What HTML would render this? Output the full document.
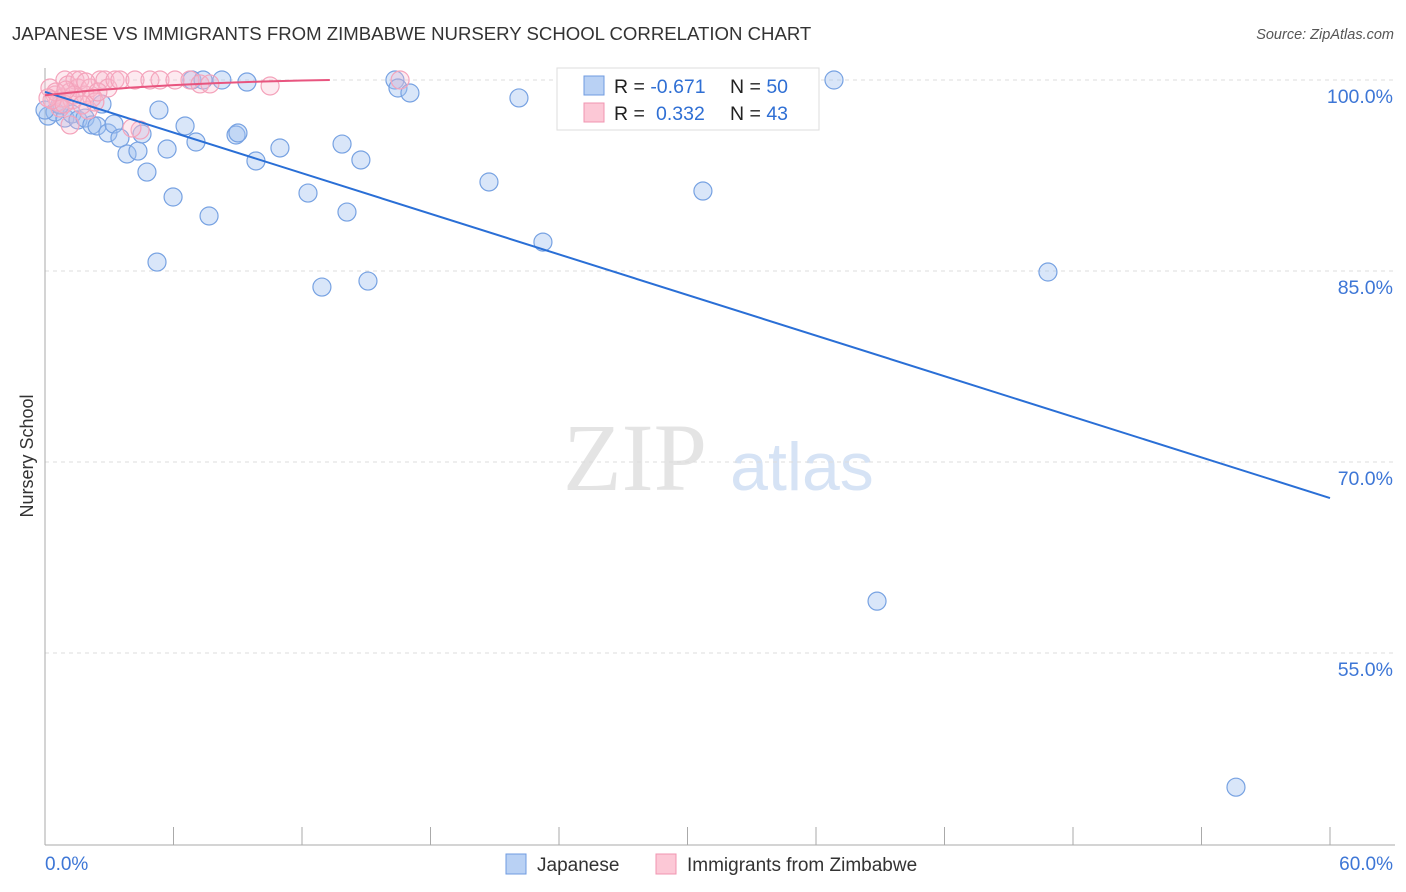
<!DOCTYPE html>
<html><head><meta charset="utf-8"><style>
body{margin:0;background:#fff;font-family:"Liberation Sans",sans-serif}
svg{display:block}
</style></head><body>
<svg id="c" width="1406" height="892">
<text x="12" y="40" font-size="18.6" fill="#333">JAPANESE VS IMMIGRANTS FROM ZIMBABWE NURSERY SCHOOL CORRELATION CHART</text>
<text x="1394" y="39" font-size="14.5" fill="#555" font-style="italic" text-anchor="end">Source: ZipAtlas.com</text>
<g>
<text x="635" y="490" font-size="96" font-family="Liberation Serif,serif" fill="#e4e4e4" text-anchor="middle">ZIP</text>
<text x="802" y="490" font-size="68" fill="#d6e3f5" text-anchor="middle">atlas</text>
</g>
<g id="grid"></g>
<g id="axes"></g>
<g id="pts"></g>
<g id="lines"></g>
<text transform="translate(33,456) rotate(-90)" font-size="18" fill="#333" text-anchor="middle">Nursery School</text>
<g>
<rect x="557" y="68" width="262" height="62" fill="#fff" stroke="#ddd"/>
<rect x="584" y="76" width="20" height="19" fill="#b9d1f4" stroke="#6f9be0"/>
<rect x="584" y="103" width="20" height="19" fill="#fcc8d6" stroke="#f095b0"/>
<text x="614" y="93" font-size="19.5" fill="#222">R = <tspan fill="#2f6fd4">-0.671</tspan><tspan x="730">N = </tspan><tspan fill="#2f6fd4">50</tspan></text>
<text x="614" y="120" font-size="19.5" fill="#222">R = <tspan x="656" fill="#2f6fd4">0.332</tspan><tspan x="730">N = </tspan><tspan fill="#2f6fd4">43</tspan></text>
</g>
<g>
<rect x="506" y="854" width="20" height="20" fill="#b9d1f4" stroke="#6f9be0"/>
<text x="537" y="871" font-size="19" fill="#333">Japanese</text>
<rect x="656" y="854" width="20" height="20" fill="#fcc8d6" stroke="#f095b0"/>
<text x="687" y="871" font-size="19" fill="#333">Immigrants from Zimbabwe</text>
</g>
</svg>
<script>
const yTicks=[100,85,70,55];
const yTickLabels=["100.0%","85.0%","70.0%","55.0%"];
const xTicks=[0,6,12,18,24,30,36,42,48,54,60];
const xEndLabels=["0.0%","60.0%"];
const japX=[0.14,0.47,0.93,1.26,1.54,1.87,2.19,2.43,2.66,2.94,3.22,3.50,3.83,4.34,4.53,4.76,5.23,5.32,5.70,5.98,6.54,6.86,7.05,7.38,7.66,8.26,8.92,9.01,9.43,9.85,10.97,12.28,12.93,13.87,14.10,14.75,15.08,16.34,16.48,17.04,20.73,22.13,23.25,30.72,36.84,38.85,46.83,55.61,0.0,0.70];
const japY=[97.17,97.49,97.01,97.33,96.86,97.01,96.47,96.39,98.11,95.84,96.54,95.44,94.19,94.42,95.76,92.77,85.70,97.64,94.58,90.81,96.39,100,95.13,100,89.32,100,95.68,95.84,99.84,93.64,94.66,91.12,83.74,94.97,89.63,93.72,84.21,100,99.37,98.98,91.99,98.59,87.27,91.28,100,59.07,84.92,44.46,97.64,98.04];
const zimX=[0.23,0.47,0.61,0.79,0.93,1.07,1.17,1.26,1.40,1.54,1.63,1.87,2.01,2.10,2.19,2.33,2.57,2.80,2.94,3.27,3.50,4.20,4.44,4.90,5.37,6.07,6.77,7.24,7.70,10.51,16.58,1.17,0.70,0.33,0.51,0.89,1.35,1.73,0.14,0.98,1.91,2.47,4.06];
const zimY=[99.37,98.82,98.27,98.59,100,99.61,99.06,98.43,100,99.37,100,98.82,97.64,99.37,98.59,98.27,100,100,99.37,100,100,100,96.07,100,100,100,100,99.69,99.69,99.53,100,96.47,97.80,98.43,99.06,98.11,98.82,98.04,98.59,99.21,99.84,99.06,96.23];
const japTrend=[0,99.06,60,67.17];
const zimTrendX=[0,2,4,6,8,10,12,13.3];
const zimTrendY=[98.8,99.15,99.4,99.6,99.75,99.87,99.96,100];
const X=v=>45+v/60*1285, Y=v=>80+(100-v)*12.733;
const NS="http://www.w3.org/2000/svg";
function mk(t,a,p){const e=document.createElementNS(NS,t);for(const k in a)e.setAttribute(k,a[k]);p.appendChild(e);return e;}
const grid=document.getElementById('grid'),axes=document.getElementById('axes'),pts=document.getElementById('pts'),lines=document.getElementById('lines');
yTicks.forEach((t,i)=>{
 const l=mk('line',{x1:45,x2:1395,y1:Y(t),y2:Y(t),stroke:'#ddd','stroke-dasharray':'4,4'},grid);
 
 
 const tx=mk('text',{x:1393,y:Y(t)+23,'font-size':19.5,fill:'#3d76d6','text-anchor':'end'},axes);
 tx.textContent=yTickLabels[i];
 
 
});
const ya=mk('line',{x1:45,x2:45,y1:68,y2:845,stroke:'#aaa'},axes);


const xa=mk('line',{x1:45,x2:1395,y1:845,y2:845,stroke:'#aaa'},axes);


xTicks.forEach(t=>{
 const l=mk('line',{x1:X(t),x2:X(t),y1:827,y2:845,stroke:'#aaa'},axes);
 
 
});
[[0,'start',45],[60,'end',1393]].forEach((d,i)=>{
 const tx=mk('text',{x:d[2],y:870,'font-size':19,fill:'#3d76d6','text-anchor':d[1]},axes);
 tx.textContent=xEndLabels[i];
 
 
});
japX.forEach((v,i)=>{
 const c=mk('circle',{cx:X(v),cy:Y(japY[i]),r:9,fill:'rgba(160,193,240,0.4)',stroke:'#77a2e2','stroke-width':1.2},pts);
 
 
});
zimX.forEach((v,i)=>{
 const c=mk('circle',{cx:X(v),cy:Y(zimY[i]),r:9,fill:'rgba(248,185,204,0.3)',stroke:'#f4a3bb','stroke-width':1.2},pts);
 
 
});
const jl=mk('line',{x1:X(japTrend[0]),y1:Y(japTrend[1]),x2:X(japTrend[2]),y2:Y(japTrend[3]),stroke:'#2a6fd6','stroke-width':2},lines);


const zp=mk('polyline',{points:zimTrendX.map((v,i)=>X(v)+','+Y(zimTrendY[i])).join(' '),fill:'none',stroke:'#e8557f','stroke-width':2},lines);


</script>
</body></html>
